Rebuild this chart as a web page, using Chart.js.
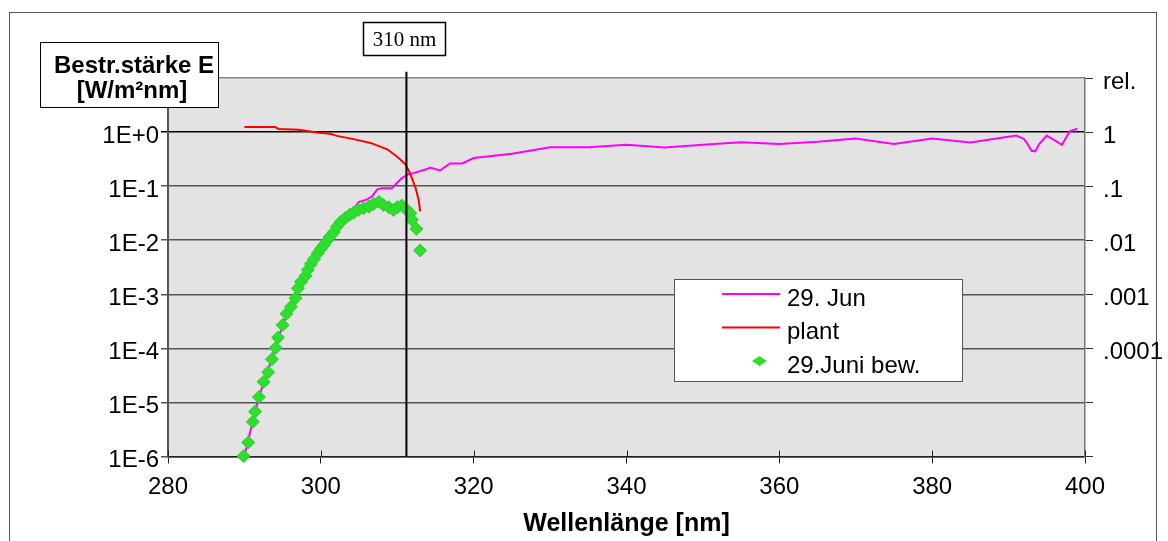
<!DOCTYPE html>
<html>
<head>
<meta charset="utf-8">
<script src="https://cdn.jsdelivr.net/npm/chart.js@4/dist/chart.umd.min.js"></script>
<style>
  html, body { margin: 0; padding: 0; background: #fff; }
</style>
</head>
<body>
<canvas id="c" width="1168" height="541"></canvas>
<script>
// spectrum 29. Jun [W/m2nm]
var junWl = [290, 291, 292, 293, 294, 295, 296, 297, 298, 299, 300, 301, 302, 303,
  304, 304.5, 305, 306, 306.7, 307.4, 308, 309.3, 310.6, 311.5, 312.1, 313.9, 314.3, 315.6, 316.9, 318.5,
  320, 325, 330, 335, 340, 345, 350, 355, 360, 365, 370, 375, 380, 385,
  391, 392, 392.5, 393, 393.5, 394, 395, 397, 398, 399];
var junE = [1e-6, 3.98e-6, 1.41e-5, 3.55e-5, 1.0e-4, 2.69e-4, 5.89e-4, 1.26e-3, 2.19e-3, 4.27e-3, 6.76e-3, 0.0107, 0.017, 0.0251,
  0.0355, 0.0417, 0.0513, 0.0562, 0.0646, 0.0871, 0.0912, 0.0912, 0.141, 0.166, 0.174, 0.207, 0.221, 0.195, 0.263, 0.263,
  0.331, 0.398, 0.525, 0.525, 0.58, 0.52, 0.58, 0.65, 0.60, 0.66, 0.76, 0.60, 0.76, 0.64,
  0.86, 0.75, 0.60, 0.45, 0.44, 0.60, 0.86, 0.58, 1.03, 1.15];

// plant action spectrum (relative, right axis)
var plantWl = [290, 294, 294.5, 297.1, 299.5, 301.2, 302.1, 304.3, 306.5, 308.7, 310, 311.1, 311.7, 312.4, 312.8, 313];
var plantRel = [1.24, 1.24, 1.14, 1.10, 0.98, 0.93, 0.85, 0.74, 0.63, 0.48, 0.35, 0.25, 0.17, 0.092, 0.056, 0.034];

// weighted spectrum 29.Juni bew.
var bewWl = [289.9, 290.5, 291.1, 291.4, 291.9, 292.5, 293.1, 293.6, 294.1, 294.4, 295.0, 295.5, 296.1, 296.7, 297.0,
  297.4, 298.0, 298.3, 298.7, 299.1, 299.6, 300.0, 300.4, 300.8, 301.2, 301.7, 302.1, 302.6, 303.2, 303.8,
  304.3, 304.9, 305.6, 306.3, 306.9, 307.6, 308.2, 308.9, 309.5, 310.0, 310.6, 311.2, 311.7, 311.9, 312.5, 313.0];
var bewE = [1.02e-6, 1.82e-6, 4.37e-6, 6.76e-6, 1.26e-5, 2.4e-5, 3.63e-5, 6.31e-5, 1.02e-4, 1.58e-4, 2.69e-4, 4.37e-4, 5.89e-4, 8.51e-4, 1.29e-3,
  1.70e-3, 2.19e-3, 2.82e-3, 3.63e-3, 4.47e-3, 5.75e-3, 6.92e-3, 8.13e-3, 9.77e-3, 0.0117, 0.0141, 0.0178, 0.0219, 0.0257, 0.0295,
  0.0324, 0.0363, 0.0389, 0.0417, 0.0468, 0.0513, 0.0447, 0.0407, 0.0363, 0.0407, 0.0437, 0.0372, 0.0316, 0.024, 0.0162, 0.00646];

// 310 nm marker
var markerWl = 311.2;
var markerY = [1e-6, 13];

// axes
var xTicks = [280, 300, 320, 340, 360, 380, 400];
var yTicks = [1e-6, 1e-5, 1e-4, 1e-3, 1e-2, 1e-1, 1, 10];
var leftLabels = ['1E-6', '1E-5', '1E-4', '1E-3', '1E-2', '1E-1', '1E+0', ''];
var rightLabels = ['', '', '.0001', '.001', '.01', '.1', '1', 'rel.'];

var FONT = 'Liberation Sans, Arial, sans-serif';

function pts(xs, ys) {
  return xs.map(function (x, i) { return { x: x, y: ys[i] }; });
}

var bgPlugin = {
  id: 'bg',
  beforeDraw: function (chart) {
    var ctx = chart.ctx, a = chart.chartArea;
    ctx.save();
    ctx.fillStyle = '#fff';
    ctx.fillRect(0, 0, chart.width, chart.height);
    ctx.strokeStyle = '#555';
    ctx.lineWidth = 1;
    ctx.strokeRect(9.5, 12.5, 1147, 540);
    ctx.fillStyle = '#e3e3e3';
    ctx.fillRect(a.left, a.top, a.right - a.left, a.bottom - a.top);
    ctx.restore();
  }
};

var overlayPlugin = {
  id: 'overlay',
  afterDraw: function (chart) {
    var ctx = chart.ctx, a = chart.chartArea, xs = chart.scales.x;
    ctx.save();
    // inner tick stubs of x axis
    ctx.strokeStyle = '#222';
    ctx.lineWidth = 1;
    xTicks.forEach(function (v) {
      var px = Math.round(xs.getPixelForValue(v)) + 0.5;
      ctx.beginPath();
      ctx.moveTo(px, a.bottom - 6);
      ctx.lineTo(px, a.bottom);
      ctx.stroke();
    });

    // y axis title box
    ctx.fillStyle = '#fff';
    ctx.fillRect(40.5, 42.5, 178, 65);
    ctx.strokeStyle = '#000';
    ctx.lineWidth = 1;
    ctx.strokeRect(40.5, 42.5, 178, 65);
    ctx.fillStyle = '#000';
    ctx.font = 'bold 24px ' + FONT;
    ctx.textAlign = 'center';
    ctx.textBaseline = 'middle';
    ctx.fillText('Bestr.stärke E', 134, 66);
    ctx.fillText('[W/m²nm]', 132, 91);

    // 310 nm label
    ctx.fillStyle = '#fff';
    ctx.fillRect(363.5, 22.5, 82, 33);
    ctx.lineWidth = 1.5;
    ctx.strokeRect(363.5, 22.5, 82, 33);
    ctx.fillStyle = '#000';
    ctx.font = '21px Liberation Serif, Times New Roman, serif';
    ctx.fillText('310 nm', 404.5, 40);

    // legend
    var lx = 674.5, ly = 279.5, lw = 288, lh = 102;
    ctx.fillStyle = '#fff';
    ctx.fillRect(lx, ly, lw, lh);
    ctx.strokeStyle = '#555';
    ctx.lineWidth = 1;
    ctx.strokeRect(lx, ly, lw, lh);
    var ds = chart.data.datasets;
    var rows = [294, 327.5, 361];
    ctx.font = '24px ' + FONT;
    ctx.textAlign = 'left';
    for (var i = 0; i < 3; i++) {
      var d = ds[i], y = rows[i];
      if (d.showLine === false) {
        ctx.fillStyle = d.pointBackgroundColor;
        ctx.beginPath();
        ctx.moveTo(752, y);
        ctx.lineTo(759.5, y - 5);
        ctx.lineTo(767, y);
        ctx.lineTo(759.5, y + 5);
        ctx.closePath();
        ctx.fill();
      } else {
        ctx.strokeStyle = d.borderColor;
        ctx.lineWidth = 2;
        ctx.beginPath();
        ctx.moveTo(722, y);
        ctx.lineTo(780, y);
        ctx.stroke();
      }
      ctx.fillStyle = '#000';
      ctx.fillText(d.label, 787, y + 5);
    }
    ctx.restore();
  }
};

new Chart(document.getElementById('c'), {
  type: 'line',
  data: {
    datasets: [
      {
        label: '29. Jun',
        data: pts(junWl, junE),
        borderColor: '#ff00ff',
        borderWidth: 2,
        pointRadius: 0,
        yAxisID: 'y',
        order: 3
      },
      {
        label: 'plant',
        data: pts(plantWl, plantRel),
        borderColor: '#ff0000',
        borderWidth: 2,
        pointRadius: 0,
        yAxisID: 'y2',
        order: 2
      },
      {
        label: '29.Juni bew.',
        data: pts(bewWl, bewE),
        showLine: false,
        pointStyle: 'rectRot',
        pointRadius: 6.5,
        pointBackgroundColor: '#2fdf2f',
        pointBorderColor: '#2ad02a',
        pointBorderWidth: 1,
        yAxisID: 'y',
        clip: false,
        order: 1
      },
      {
        label: 'marker',
        data: [{ x: markerWl, y: markerY[0] }, { x: markerWl, y: markerY[1] }],
        borderColor: '#000',
        borderWidth: 2,
        pointRadius: 0,
        yAxisID: 'y',
        clip: false,
        order: 0
      }
    ]
  },
  options: {
    responsive: false,
    animation: false,
    devicePixelRatio: 1,
    layout: { padding: { top: 78, left: 0, right: 0, bottom: 0 } },
    plugins: { legend: { display: false }, tooltip: { enabled: false } },
    scales: {
      x: {
        type: 'linear',
        min: 280,
        max: 400,
        afterBuildTicks: function (s) { s.ticks = xTicks.map(function (v) { return { value: v }; }); },
        afterFit: function (s) { s.height = 84.5; },
        grid: { drawOnChartArea: false, tickLength: 7, color: '#222' },
        border: { color: '#222', width: 1.5 },
        ticks: { font: { family: FONT, size: 24 }, color: '#000', padding: 9, maxRotation: 0, autoSkip: false },
        title: {
          display: true,
          text: 'Wellenlänge [nm]',
          font: { family: FONT, size: 25, weight: 'bold' },
          color: '#000',
          padding: { top: 0, bottom: 2 }
        }
      },
      y: {
        type: 'logarithmic',
        position: 'left',
        min: 1e-6,
        max: 10,
        afterBuildTicks: function (s) { s.ticks = yTicks.map(function (v) { return { value: v }; }); },
        afterFit: function (s) { s.width = 168; },
        grid: {
          tickLength: 7,
          lineWidth: 1.5,
          color: function (c) { return c.tick && c.tick.value === 10 ? '#888' : (c.tick && c.tick.value === 1 ? '#000' : '#555'); }
        },
        border: { color: '#555', width: 2 },
        ticks: {
          font: { family: FONT, size: 24 },
          color: '#000',
          padding: 2,
          labelOffset: 4,
          autoSkip: false,
          callback: function (v, i) { return leftLabels[i]; }
        }
      },
      y2: {
        type: 'logarithmic',
        position: 'right',
        min: 1e-6,
        max: 10,
        afterBuildTicks: function (s) { s.ticks = yTicks.map(function (v) { return { value: v }; }); },
        afterFit: function (s) { s.width = 83; },
        grid: { drawOnChartArea: false, tickLength: 8, color: '#333' },
        border: { color: '#777', width: 1.5 },
        ticks: {
          font: { family: FONT, size: 24 },
          color: '#000',
          padding: 10,
          labelOffset: 4,
          autoSkip: false,
          callback: function (v, i) { return rightLabels[i]; }
        }
      }
    }
  },
  plugins: [bgPlugin, overlayPlugin]
});
</script>
</body>
</html>
